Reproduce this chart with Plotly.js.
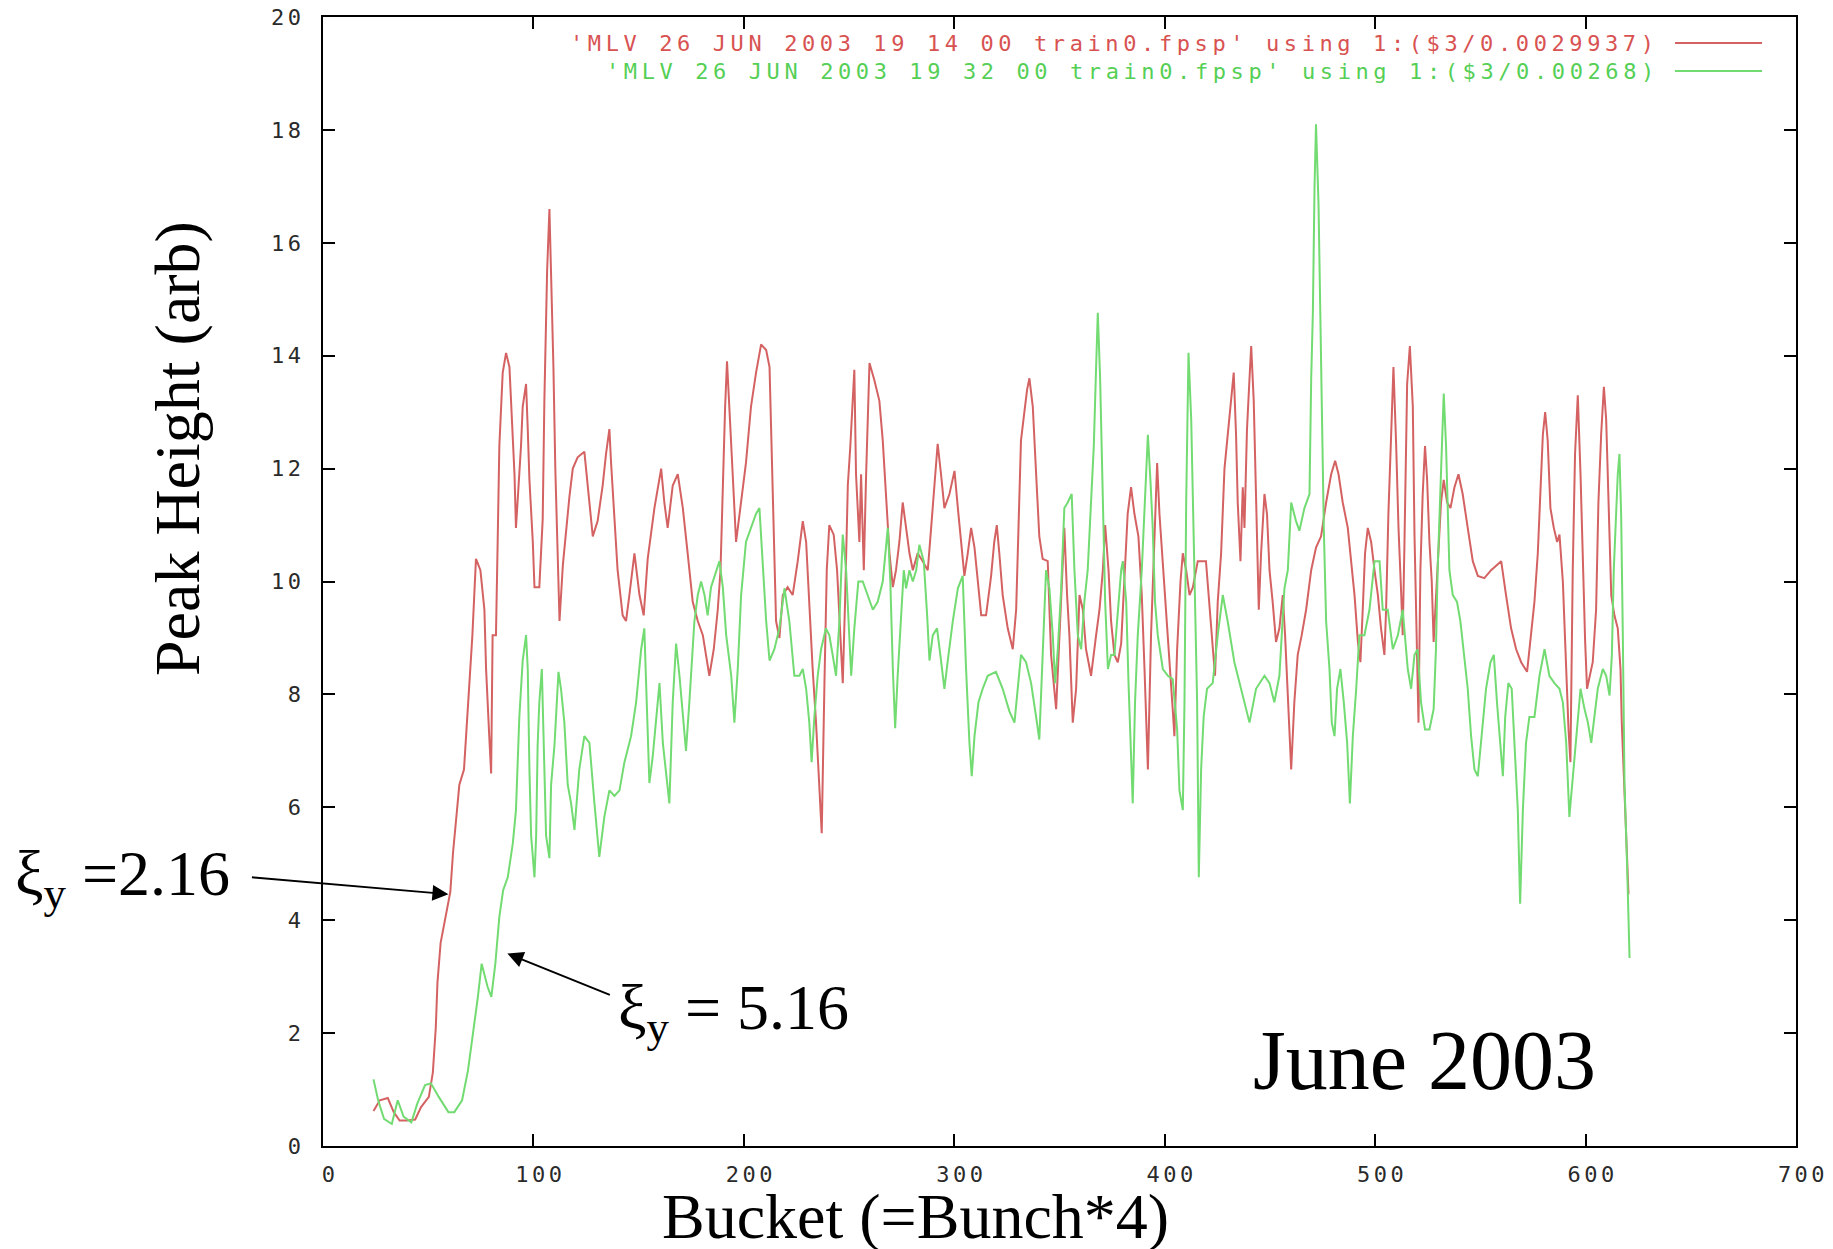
<!DOCTYPE html>
<html>
<head>
<meta charset="utf-8">
<script src="https://cdn.plot.ly/plotly-3.0.1.min.js"></script>
<style>
  html, body { margin: 0; padding: 0; background: #fff; }
  #chart { width: 1833px; height: 1249px; }
  .xtick text, .ytick text { letter-spacing: 3.5px; }
  text.annotation-text[style*="Sans Mono"] { letter-spacing: 4.6px; }
</style>
</head>
<body>
<div id="chart"></div>
<script>
// ---- data ----
const redName = "'MLV 26 JUN 2003 19 14 00 train0.fpsp' using 1:($3/0.0029937)";
const greenName = "'MLV 26 JUN 2003 19 32 00 train0.fpsp' using 1:($3/0.00268)";

const bucketRed = [24,27,30.8,33.6,36.4,40,43.8,46.6,50.3,52.2,53.6,54.4,55.9,58.1,60.5,61.8,63.2,64.8,67,68,69.5,71,72.7,74.8,76.7,77.5,79,79.9,80.6,82.2,83,83.8,85.4,87,88.6,90.2,91,91.7,92.5,94.1,94.9,96.5,97.3,98.1,99.7,100.5,102.8,104.4,105.2,106.5,107.6,108.4,109.5,110.4,111.6,112.4,114,115.5,117.1,118.7,121,124.2,126.6,128.2,130.5,132.9,134.5,136.1,136.9,138.5,140,142.4,144,145.6,148,150.4,152.4,154.3,157.5,160.7,162.2,163.8,166.2,168.6,171,173.3,175.7,178.1,180.5,182,183.6,185.7,187.6,188.9,190,191.1,192,193.1,194.7,196.3,197.1,198.7,201,203.4,205.8,208.2,210.6,212.2,213.7,215.3,216.9,218.5,220.8,223.2,225.6,228,229.6,231.1,232.7,234.3,235.9,237,238.3,239.4,240.6,242.7,244.3,245.9,247,248.1,249.4,250.6,251.7,252.5,253.3,254.9,255.7,257,258.1,259.7,262,264.4,266,267.6,269.2,270.8,272.3,273.9,275.5,277.1,278.7,280.3,282.6,285,287.4,289,290.6,292.1,293.7,295.3,297.7,300.1,301.7,303.2,304.8,306.4,308,309.6,311.2,312.8,315.1,317.5,319,320.2,321.4,323,325.4,327.8,329.4,330.2,331.7,333.3,334.6,335.7,337.3,338.9,340.4,342,344.4,346,347.6,348.4,350,351.5,352.3,353.6,354.7,356.3,357.9,359.5,361.1,362.6,365,367.4,369,370.6,371.7,373.3,374.5,376.1,377.7,379.3,380.9,382.4,384,385.6,387.5,389.1,390.4,392,393.5,395.1,396.4,397.5,399.1,400.7,402.3,403.8,404.6,405.9,407.5,408.6,410.2,411.8,413.4,415.7,419.6,421.2,422.8,423.9,425.2,426.8,428.4,429.9,431.5,432.8,433.9,434.7,436,437.1,437.9,439.1,440.3,441.1,442.3,443.4,444.7,445.8,447.4,448.6,449.8,451.3,452.9,454.5,456.1,457.2,458.5,460.1,461.6,463.2,465.1,467.2,469.6,471.9,474.3,476.7,479.1,481,482.6,484.6,487,488.6,490.2,491.8,493,494.1,495.2,496.5,498.1,499.7,501.3,502.8,504.4,505.2,506.3,507.6,508.7,510,511.1,512.4,513.1,513.9,515.2,516.5,517.9,518.7,519.9,520.6,521.5,522.6,523.7,524.7,525.8,526.9,527.8,528.9,530.1,531.3,532.6,534.2,535.8,537.7,539.6,541.6,544,546.4,548.8,551.9,555.1,559.9,562.2,564.6,567,569.4,572.2,574.1,575.7,577.3,578.6,579.7,580.8,582,583.3,584.9,586.5,587.6,589.2,590.8,591.9,592.8,593.9,595,596.3,597.6,598.7,599.8,600.7,601.9,603.4,605,606.1,607.4,608.7,609.8,610.9,612.2,613.7,615.3,616.6,617.2,618.2,619.3,620.4];
const peakRed = [0.62,0.81,0.85,0.6,0.45,0.45,0.47,0.69,0.87,1.3,2.1,2.9,3.6,4.0,4.5,5.2,5.8,6.4,6.67,7.26,8.1,9.05,10.4,10.2,9.5,8.45,7.26,6.6,9.05,9.05,10.7,12.4,13.7,14.05,13.8,12.6,11.9,10.95,11.4,12.4,13.1,13.5,12.7,11.8,10.7,9.9,9.9,11.1,13.2,15.5,16.6,15.6,13.8,12.0,10.2,9.3,10.3,10.9,11.5,12.0,12.2,12.3,11.4,10.8,11.07,11.7,12.26,12.7,12.1,11.2,10.2,9.4,9.3,9.76,10.5,9.76,9.4,10.4,11.3,12.0,11.4,10.95,11.7,11.9,11.3,10.5,9.64,9.3,9.05,8.7,8.33,8.8,9.5,10.2,11.7,13.1,13.9,13.0,11.9,10.7,10.95,11.4,12.1,13.1,13.7,14.2,14.1,13.8,11.4,9.3,9.0,9.76,9.9,9.76,10.36,11.07,10.7,9.5,8.45,7.5,6.43,5.54,8.2,10.2,11.0,10.83,10.2,9.05,8.2,9.64,11.7,12.4,13.1,13.75,11.9,10.7,11.9,10.2,11.9,13.87,13.57,13.2,12.5,11.4,10.5,9.9,10.2,10.7,11.4,10.95,10.5,10.2,10.5,10.36,10.2,10.95,11.7,12.44,11.9,11.3,11.55,11.96,11.3,10.7,10.1,10.5,10.95,10.6,10.0,9.4,9.4,10.1,10.7,11.0,10.5,9.76,9.17,8.8,9.5,10.6,12.5,13.0,13.4,13.6,13.1,11.9,10.8,10.4,10.36,8.7,8.1,7.74,9.05,10.2,10.95,9.76,9.05,7.5,8.1,9.76,9.5,8.8,8.33,9.05,9.5,10.2,11.0,10.2,9.3,8.7,8.57,8.9,10.0,11.2,11.67,11.2,10.8,9.76,8.45,6.67,9.05,10.8,12.1,11.2,10.36,9.5,8.7,7.74,7.26,8.8,10.0,10.5,10.2,9.76,9.9,10.36,10.36,9.64,8.8,8.33,9.64,10.5,12.0,12.6,13.3,13.7,12.6,11.4,10.36,11.67,10.95,12.7,13.6,14.17,13.2,11.67,9.5,10.5,11.55,11.2,10.2,9.64,8.93,9.17,9.76,9.05,7.86,6.67,7.86,8.7,9.05,9.5,10.2,10.6,10.8,11.4,11.9,12.14,11.9,11.4,10.95,10.36,9.76,8.93,8.57,9.5,10.5,10.95,10.7,10.2,9.76,9.17,8.7,9.5,11.2,12.6,13.8,12.4,10.95,9.76,9.05,10.6,13.5,14.17,13.1,10.83,8.57,7.5,10.2,11.55,12.4,11.8,10.7,10.0,8.93,9.76,10.7,11.4,11.8,11.4,11.3,11.67,11.9,11.55,10.95,10.36,10.1,10.06,10.2,10.36,9.76,9.17,8.8,8.57,8.4,9.05,9.64,10.5,11.55,12.6,13.0,12.5,11.3,10.95,10.7,10.83,10.0,8.33,7.38,6.8,10.2,12.26,13.3,11.9,10.36,8.93,8.1,8.33,8.57,9.5,11.4,12.6,13.45,12.86,11.4,9.76,9.4,9.17,8.45,7.5,6.55,5.5,4.46];

const bucketGreen = [24,26.2,29,32.7,35.5,38.3,42,44.8,48.5,51.3,55,59.6,62.4,66.1,68.9,71.7,73.6,75.4,78.2,80,81.9,83.8,85.6,87.8,90.2,91.7,92.5,93.3,94.1,94.9,96.5,97.3,98.1,98.9,100.5,101.3,102,102.8,104,104.9,106,107.6,108.4,110,111.9,113.1,114.7,116.3,117.9,119.5,121.8,124.2,126.6,129,131.3,133.7,136.1,138.5,140.9,143.2,146.4,148.8,151.2,152.7,154,155.1,156.7,158.3,159.9,161.5,163,164.6,166.2,167.8,169.4,171,172.5,174.1,176.5,178.1,179.7,181.3,182.8,184.4,186.8,188.4,190,191.6,194,195.5,197.1,198.7,201,203.4,205.8,207.4,209,210.6,212.2,214.5,216.9,219.3,221.6,224,226.4,228,229.6,231.1,232.2,233.5,235.1,236.7,239,240.6,242.2,243.8,245.4,247,248.6,249.7,251,252.5,254.4,256.5,258.9,261.3,263.6,266,268.4,269.6,270.8,271.9,273.1,274.7,276,277.1,278.7,280.3,281.9,283.4,285.5,287.1,288.2,289.8,291.8,293.7,295.3,296.9,299.3,301.7,304,305.6,307.2,308.3,309.6,311.5,313.5,315.9,319.8,323,326.2,328.6,330.2,331.7,334.1,336.5,338.9,340.4,342,343.6,345.2,346.8,347.9,349.2,350.8,352.3,353.9,355.8,357.1,358.7,360.3,361.8,363.4,365,366.3,367.4,368.2,369.3,370.6,371.7,373,374.5,376.1,377.7,379.3,380.1,381.7,382.8,384,384.8,385.9,387.2,389.1,390.4,392,393.2,394.3,395.4,396.7,399.1,401.5,403.8,405.9,407,408.6,409.4,410.2,411.3,412.6,414.1,415.4,416.2,417.3,418.5,420.1,422.8,425.2,427.6,429.9,433.1,436.3,440.3,443.4,447.4,449.8,452.1,454.5,456.9,458.5,460.1,462.4,464,466.4,468.8,469.6,470.4,471.2,471.9,473.1,474.3,475.6,476.7,478.3,479.4,480.7,481.9,483.5,485.1,486.7,488,489.4,491,492.5,494.9,497.3,499.7,502.1,503.6,506,508.4,510.8,513.1,515.5,517.1,518.7,520.2,521.8,523.7,525.8,527.8,528.9,529.7,530.5,531.6,532.6,533.7,534.5,535.3,536.9,538.9,540.5,542.1,544,545.6,547.2,548.8,550.7,552.7,554.8,556.4,557.9,559.5,560.7,561.8,563.3,564.9,566.2,567.8,568.9,570.2,571.7,573.3,575.7,578.1,580.5,582.8,585.2,587.6,589.2,590.8,592.3,593.9,595.5,597.6,599.5,601.1,602.7,604.2,605.8,608.2,609.8,611.4,612.5,613.4,614.5,615.3,616.1,616.9,617.7,618.5,619.8,620.9];
const peakGreen = [1.18,0.81,0.48,0.39,0.81,0.52,0.42,0.75,1.08,1.11,0.87,0.6,0.6,0.81,1.34,2.11,2.64,3.23,2.82,2.64,3.23,4.06,4.53,4.76,5.36,5.95,6.8,7.6,8.1,8.6,9.05,8.45,6.67,5.5,4.76,5.5,7.1,7.86,8.45,7.1,5.5,5.1,6.4,7.1,8.4,8.1,7.5,6.4,6.07,5.6,6.67,7.26,7.14,6.07,5.12,5.83,6.3,6.2,6.3,6.79,7.26,7.86,8.8,9.17,7.86,6.43,6.9,7.6,8.2,7.14,6.67,6.07,7.86,8.9,8.33,7.6,7.0,7.86,9.3,9.76,10.0,9.76,9.4,9.9,10.2,10.36,9.9,9.05,8.33,7.5,8.45,9.76,10.7,10.95,11.2,11.3,10.2,9.3,8.6,8.8,9.17,9.88,9.3,8.33,8.33,8.45,8.1,7.5,6.8,7.6,8.33,8.8,9.17,9.05,8.7,8.33,9.3,10.83,10.2,9.3,8.33,9.17,10.0,10.0,9.76,9.5,9.64,10.0,10.95,10.0,8.45,7.4,8.33,9.3,10.2,9.88,10.2,10.0,10.2,10.65,10.36,9.4,8.6,9.05,9.17,8.6,8.1,8.6,9.3,9.88,10.1,8.45,7.14,6.55,7.26,7.86,8.1,8.33,8.4,8.1,7.7,7.5,8.1,8.7,8.57,8.2,7.6,7.2,8.7,10.2,9.88,9.05,8.2,8.8,9.88,11.3,11.4,11.55,10.2,9.05,8.8,9.64,10.2,11.4,12.4,13.8,14.76,13.6,11.4,9.64,8.45,8.7,8.7,9.5,10.2,10.36,9.64,8.2,6.67,6.07,7.86,9.05,10.2,11.4,12.6,11.8,10.95,9.64,9.05,8.45,8.33,8.27,7.38,6.3,5.95,7.86,11.4,14.05,12.86,10.2,7.86,4.76,6.67,7.6,8.1,8.2,9.05,9.76,9.3,8.57,8.1,7.5,8.1,8.33,8.2,7.86,8.33,9.88,10.2,11.4,11.07,10.9,11.3,11.55,13.57,14.76,17.0,18.1,16.67,13.8,10.95,9.3,8.45,7.5,7.26,8.1,8.45,7.86,7.14,6.07,7.26,8.1,9.05,9.05,9.5,10.36,10.36,9.5,9.5,8.8,9.05,9.5,8.45,8.1,8.7,8.8,7.86,7.38,7.38,7.74,8.8,10.2,11.07,12.14,13.33,12.4,11.4,10.2,9.76,9.64,9.3,8.8,8.1,7.26,6.67,6.55,7.26,8.1,8.57,8.7,7.86,7.02,6.55,7.6,8.2,8.1,7.14,5.95,4.29,5.95,7.14,7.6,7.6,8.33,8.8,8.33,8.2,8.1,7.86,7.14,5.83,6.55,7.26,8.1,7.74,7.5,7.14,7.6,8.1,8.45,8.33,7.98,8.7,10.2,11.4,11.9,12.26,11.2,9.05,6.43,4.88,3.33];

const xTickVals = [0,100,200,300,400,500,600,700];
const yTickVals = [0,2,4,6,8,10,12,14,16,18,20];

const xTitle = "Bucket (=Bunch*4)";
const yTitle = "Peak Height (arb)";
const label1 = "\u03BE<sub>y</sub> =2.16";
const label2 = "\u03BE<sub>y</sub> = 5.16";
const dateLabel = "June 2003";

// ---- styling ----
const W = 1833, H = 1249;
const M = {l: 323, r: 37, t: 17, b: 103};
const PW = W - M.l - M.r, PH = H - M.t - M.b;
const px2paperX = p => (p - M.l) / PW;
const px2paperY = p => (H - M.b - p) / PH;

const RED = '#d46262', GREEN = '#72db72';
const RED_TXT = '#d85252', GREEN_TXT = '#55cf55';
const MONO = 'DejaVu Sans Mono';
const SERIF = 'Liberation Serif, Times New Roman, serif';

const traces = [
  {x: bucketRed, y: peakRed, name: redName, type: 'scatter', mode: 'lines',
   line: {color: RED, width: 2}, showlegend: false},
  {x: bucketGreen, y: peakGreen, name: greenName, type: 'scatter', mode: 'lines',
   line: {color: GREEN, width: 2}, showlegend: false}
];

const axisCommon = {
  showgrid: false, zeroline: false, showline: true, linecolor: '#000', linewidth: 2,
  mirror: 'ticks', ticks: 'inside', ticklen: 12, tickwidth: 2, tickcolor: '#000',
  tickfont: {family: MONO, size: 22, color: '#2a2a2a'}, automargin: false
};

const layout = {
  width: W, height: H, margin: M,
  paper_bgcolor: '#fff', plot_bgcolor: '#fff',
  xaxis: Object.assign({}, axisCommon, {range: [0, 700], tickvals: xTickVals,
    ticktext: xTickVals.map(String), ticklabelstandoff: 8, ticklabelshift: 7}),
  yaxis: Object.assign({}, axisCommon, {range: [0, 20], tickvals: yTickVals,
    ticktext: yTickVals.map(String), ticklabelstandoff: 12}),
  showlegend: false,
  shapes: [
    {type: 'line', xref: 'paper', yref: 'paper', x0: px2paperX(1675), x1: px2paperX(1762),
     y0: px2paperY(43), y1: px2paperY(43), line: {color: RED, width: 2}},
    {type: 'line', xref: 'paper', yref: 'paper', x0: px2paperX(1675), x1: px2paperX(1762),
     y0: px2paperY(71), y1: px2paperY(71), line: {color: GREEN, width: 2}}
  ],
  annotations: [
    {text: redName, xref: 'paper', yref: 'paper', x: px2paperX(1661), y: px2paperY(43),
     xanchor: 'right', yanchor: 'middle', align: 'right', showarrow: false,
     font: {family: MONO, size: 22, color: RED_TXT}},
    {text: greenName, xref: 'paper', yref: 'paper', x: px2paperX(1661), y: px2paperY(71),
     xanchor: 'right', yanchor: 'middle', align: 'right', showarrow: false,
     font: {family: MONO, size: 22, color: GREEN_TXT}},
    {text: xTitle, xref: 'paper', yref: 'paper', x: px2paperX(915), y: px2paperY(1216),
     xanchor: 'center', yanchor: 'middle', showarrow: false,
     font: {family: SERIF, size: 64, color: '#000'}},
    {text: yTitle, xref: 'paper', yref: 'paper', x: px2paperX(178), y: px2paperY(449),
     xanchor: 'center', yanchor: 'middle', textangle: -90, showarrow: false,
     font: {family: SERIF, size: 64, color: '#000'}},
    {text: label1, xref: 'paper', yref: 'paper', x: px2paperX(232), y: px2paperY(878),
     xanchor: 'right', yanchor: 'middle', showarrow: false,
     font: {family: SERIF, size: 64, color: '#000'}},
    {text: label2, xref: 'paper', yref: 'paper', x: px2paperX(616), y: px2paperY(1012),
     xanchor: 'left', yanchor: 'middle', showarrow: false,
     font: {family: SERIF, size: 64, color: '#000'}},
    {text: dateLabel, xref: 'paper', yref: 'paper', x: px2paperX(1424), y: px2paperY(1060),
     xanchor: 'center', yanchor: 'middle', showarrow: false,
     font: {family: SERIF, size: 84, color: '#000'}},
    {text: ' ', x: 59.6, y: 4.46, xref: 'x', yref: 'y', ax: -198, ay: -17,
     showarrow: true, arrowhead: 2, arrowsize: 1.6, arrowwidth: 2, arrowcolor: '#000',
     font: {size: 1}},
    {text: ' ', x: 87.6, y: 3.41, xref: 'x', yref: 'y', ax: 104, ay: 42,
     showarrow: true, arrowhead: 2, arrowsize: 1.6, arrowwidth: 2, arrowcolor: '#000',
     font: {size: 1}}
  ]
};

Plotly.newPlot('chart', traces, layout, {staticPlot: true, displayModeBar: false});
</script>
</body>
</html>
